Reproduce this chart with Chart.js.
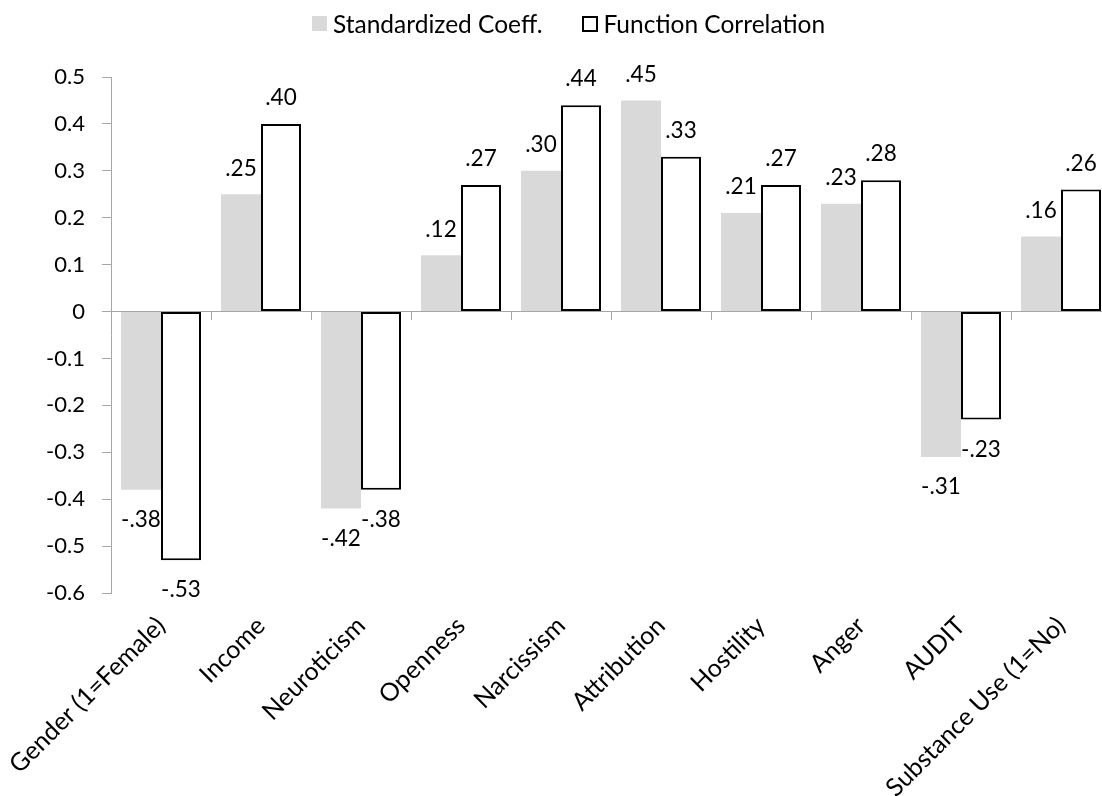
<!DOCTYPE html>
<html>
<head>
<meta charset="utf-8">
<script src="https://cdn.jsdelivr.net/npm/chart.js@4.4.1/dist/chart.umd.min.js"></script>
<style>
  html, body { margin: 0; padding: 0; background: #fff; overflow: hidden; }
  #wrap { position: relative; width: 1102px; height: 796px; overflow: hidden; background: #fff; }
  #box { position: absolute; left: 0; top: 0; width: 1112px; height: 796px; }
  #legend { position: absolute; top: 9px; left: 312px; display: flex; align-items: center;
            font-family: Lato, sans-serif; font-size: 24.5px; color: #000; white-space: nowrap; }
  .sw { display: inline-block; box-sizing: border-box; }
</style>
</head>
<body>
<div id="wrap">
  <div id="box"><canvas id="c"></canvas></div>
  <div id="legend"></div>
</div>
<script>
// Predictors on the category axis
const categories = ['Gender (1=Female)', 'Income', 'Neuroticism', 'Openness', 'Narcissism',
                    'Attribution', 'Hostility', 'Anger', 'AUDIT', 'Substance Use (1=No)'];
// Discriminant function weights
const standardizedCoeff   = [-0.38, 0.25, -0.42, 0.12, 0.30, 0.45, 0.21, 0.23, -0.31, 0.16];
const functionCorrelation = [-0.53, 0.40, -0.38, 0.27, 0.44, 0.33, 0.27, 0.28, -0.23, 0.26];
const seriesNames = ['Standardized Coeff.', 'Function Correlation'];
// Value axis ticks
const yTickValues = [-0.6, -0.5, -0.4, -0.3, -0.2, -0.1, 0, 0.1, 0.2, 0.3, 0.4, 0.5];

const axisGrey = '#a6a6a6';
const greyFill = '#d9d9d9';
const FONT = 'Lato, sans-serif';

function fmtValue(v) {
  return v.toFixed(2).replace('0.', '.');
}
function fmtTick(v) {
  const r = Math.round(v * 10) / 10;
  return r === 0 ? '0' : String(r);
}

// HTML legend built from the series names
const legendEl = document.getElementById('legend');
legendEl.innerHTML =
  '<span class="sw" style="width:15px;height:15px;background:' + greyFill + ';margin-right:6px"></span>' +
  '<span>' + seriesNames[0] + '</span>' +
  '<span class="sw" style="width:16px;height:16px;border:2px solid #000;background:#fff;margin-left:40px;margin-right:5px"></span>' +
  '<span>' + seriesNames[1] + '</span>';

// Value labels at the end of each bar
const valueLabels = {
  id: 'valueLabels',
  afterDatasetsDraw(chart) {
    const ctx = chart.ctx;
    ctx.save();
    ctx.font = '22.5px ' + FONT;
    ctx.fillStyle = '#000';
    ctx.textAlign = 'center';
    ctx.textBaseline = 'middle';
    chart.data.datasets.forEach((ds, i) => {
      chart.getDatasetMeta(i).data.forEach((bar, j) => {
        const v = ds.data[j];
        const y = v >= 0 ? bar.y - 26 : bar.y + 30;
        ctx.fillText(fmtValue(v), bar.x, y);
      });
    });
    ctx.restore();
  }
};

new Chart(document.getElementById('c'), {
  type: 'bar',
  data: {
    labels: categories,
    datasets: [
      {
        label: seriesNames[0],
        data: standardizedCoeff,
        backgroundColor: greyFill,
        borderWidth: 0,
        categoryPercentage: 0.8,
        barPercentage: 1.0
      },
      {
        label: seriesNames[1],
        data: functionCorrelation,
        backgroundColor: '#ffffff',
        borderColor: '#000000',
        borderWidth: 2,
        borderSkipped: false,
        categoryPercentage: 0.8,
        barPercentage: 1.0
      }
    ]
  },
  options: {
    responsive: true,
    maintainAspectRatio: false,
    animation: false,
    layout: { padding: { top: 77, right: 1, left: 0, bottom: 0 } },
    plugins: {
      legend: { display: false },
      tooltip: { enabled: false }
    },
    scales: {
      x: {
        type: 'category',
        position: 'bottom',
        grid: { display: false },
        border: { display: false },
        ticks: {
          autoSkip: false,
          maxRotation: 45,
          minRotation: 45,
          padding: 10,
          color: '#000',
          font: { family: FONT, size: 25 }
        },
        afterFit(s) {
          s.height = 203;
          // rotated labels may run past the plot edges without moving it
          s.paddingLeft = 0;
          s.paddingRight = 0;
        }
      },
      x0: {
        type: 'category',
        labels: categories,
        position: { y: 0 },
        offset: true,
        grid: { offset: true, drawOnChartArea: false, drawTicks: true, tickLength: 8, color: axisGrey, lineWidth: 1 },
        border: { display: true, color: axisGrey, width: 1 },
        ticks: { display: false },
        afterFit(s) { s.height = 0; s.paddingLeft = 0; s.paddingRight = 0; }
      },
      y: {
        min: -0.6,
        max: 0.5,
        afterBuildTicks(s) { s.ticks = yTickValues.map(v => ({ value: v })); },
        grid: { drawOnChartArea: false, drawTicks: true, tickLength: 9, color: axisGrey },
        border: { display: true, color: axisGrey, width: 1 },
        ticks: {
          padding: 17,
          color: '#000',
          font: { family: FONT, size: 22 },
          callback: (v) => fmtTick(v)
        },
        afterFit(s) { s.width = 111; }
      }
    }
  },
  plugins: [valueLabels]
});
</script>
</body>
</html>
